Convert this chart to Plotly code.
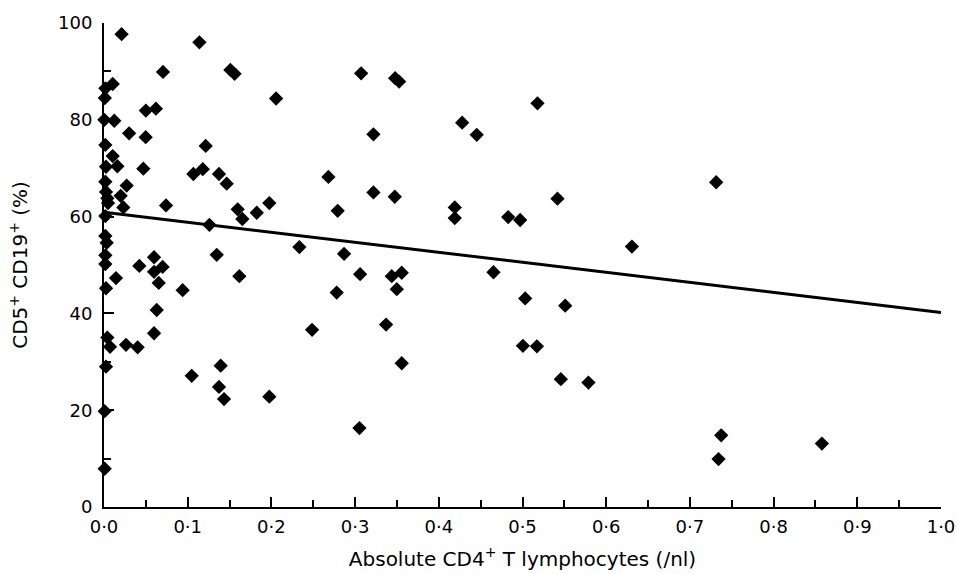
import plotly.graph_objects as go

cd4_abs = [0.021, 0.114, 0.0705, 0.151, 0.156, 0.0104, 0.0016, 0.001, 0.2056, 0.050,
           0.062, 0.0004, 0.0123, 0.030, 0.0498, 0.1215, 0.0016, 0.0104, 0.016, 0.0024,
           0.047, 0.1068, 0.118, 0.1374, 0.1466, 0.0271, 0.0016, 0.0199, 0.0024, 0.004,
           0.0048, 0.0231, 0.0741, 0.1597, 0.1975, 0.1825, 0.1653, 0.1259, 0.0016, 0.2334,
           0.0016, 0.0032, 0.1347, 0.0016, 0.0016, 0.0422, 0.0598, 0.070, 0.0598, 0.0143,
           0.0654, 0.1617, 0.0024, 0.094, 0.063, 0.004, 0.0072, 0.0263, 0.0402, 0.0598,
           0.0024, 0.1048, 0.1394, 0.1374, 0.1434, 0.1975, 0.2486, 0.0008, 0.0008, 0.3072,
           0.3478, 0.3526, 0.5179, 0.4279, 0.4453, 0.3219, 0.2681, 0.3219, 0.3474, 0.2792,
           0.4191, 0.4191, 0.5418, 0.4829, 0.4972, 0.6307, 0.2868, 0.306, 0.3438, 0.3557,
           0.4653, 0.278, 0.3498, 0.5032, 0.551, 0.337, 0.5005, 0.5172, 0.3557, 0.5458,
           0.5788, 0.3052, 0.7374, 0.7342, 0.8577, 0.7314]
cd5_cd19_pct = [97.7, 96.0, 89.9, 90.3, 89.5, 87.4, 86.5, 84.5, 84.4, 81.9,
                82.3, 80.0, 79.8, 77.2, 76.4, 74.6, 74.8, 72.5, 70.4, 70.3,
                69.9, 68.8, 69.8, 68.8, 66.8, 66.4, 67.2, 64.3, 65.1, 63.8,
                62.8, 61.9, 62.3, 61.5, 62.8, 60.8, 59.5, 58.3, 60.1, 53.7,
                56.0, 54.6, 52.1, 52.0, 50.2, 49.8, 51.6, 49.6, 48.6, 47.3,
                46.3, 47.7, 45.2, 44.8, 40.7, 35.0, 33.1, 33.5, 33.0, 35.9,
                29.0, 27.1, 29.2, 24.8, 22.3, 22.8, 36.6, 19.8, 7.9, 89.6,
                88.6, 87.9, 83.4, 79.4, 76.9, 77.0, 68.2, 65.0, 64.1, 61.2,
                61.9, 59.7, 63.7, 59.9, 59.3, 53.8, 52.3, 48.1, 47.7, 48.4,
                48.5, 44.3, 45.0, 43.1, 41.6, 37.7, 33.3, 33.2, 29.7, 26.4,
                25.7, 16.3, 14.8, 9.9, 13.1, 67.1]

fit_x = [0.0, 1.0]
fit_y = [60.9, 40.2]

x_tick_vals = [0.0, 0.1, 0.2, 0.3, 0.4, 0.5, 0.6, 0.7, 0.8, 0.9, 1.0]
x_tick_text = ["0·0", "0·1", "0·2", "0·3", "0·4", "0·5", "0·6", "0·7", "0·8", "0·9", "1·0"]
y_tick_vals = [0, 20, 40, 60, 80, 100]
y_tick_text = ["0", "20", "40", "60", "80", "100"]

fig = go.Figure()
fig.add_trace(go.Scatter(
    x=fit_x, y=fit_y, mode="lines",
    line=dict(color="black", width=3), showlegend=False, hoverinfo="skip"))
fig.add_trace(go.Scatter(
    x=cd4_abs, y=cd5_cd19_pct, mode="markers",
    marker=dict(symbol="diamond", size=11, color="black", line=dict(width=0)),
    cliponaxis=False, showlegend=False))

tick_font = dict(family="DejaVu Sans", size=18, color="black")
title_font = dict(family="DejaVu Sans", size=20, color="black")

fig.update_layout(
    width=957, height=574,
    margin=dict(l=104, r=16, t=23, b=67),
    paper_bgcolor="white", plot_bgcolor="white",
    font=tick_font,
    xaxis=dict(
        range=[0, 1], tickvals=x_tick_vals, ticktext=x_tick_text,
        showline=True, linecolor="black", linewidth=2,
        ticks="inside", ticklen=10, tickwidth=1.5, tickcolor="black",
        minor=dict(dtick=0.05, ticks="inside", ticklen=7, tickwidth=1.5, tickcolor="black"),
        showgrid=False, zeroline=False, automargin=False,
        tickfont=tick_font,
        title=dict(text="Absolute CD4<sup>+</sup> T lymphocytes (/nl)", font=title_font, standoff=16),
        ticklabelstandoff=2,
    ),
    yaxis=dict(
        range=[0, 100], tickvals=y_tick_vals, ticktext=y_tick_text,
        showline=True, linecolor="black", linewidth=2,
        ticks="inside", ticklen=10, tickwidth=1.5, tickcolor="black",
        minor=dict(dtick=10, ticks="inside", ticklen=7, tickwidth=1.5, tickcolor="black"),
        showgrid=False, zeroline=False, automargin=False,
        tickfont=tick_font,
        title=dict(text="CD5<sup>+</sup> CD19<sup>+</sup> (%)", font=title_font, standoff=25),
        ticklabelstandoff=6,
    ),
)

fig.write_html("out.html", config={"displayModeBar": False},
               post_script="document.body.style.margin='0';")
